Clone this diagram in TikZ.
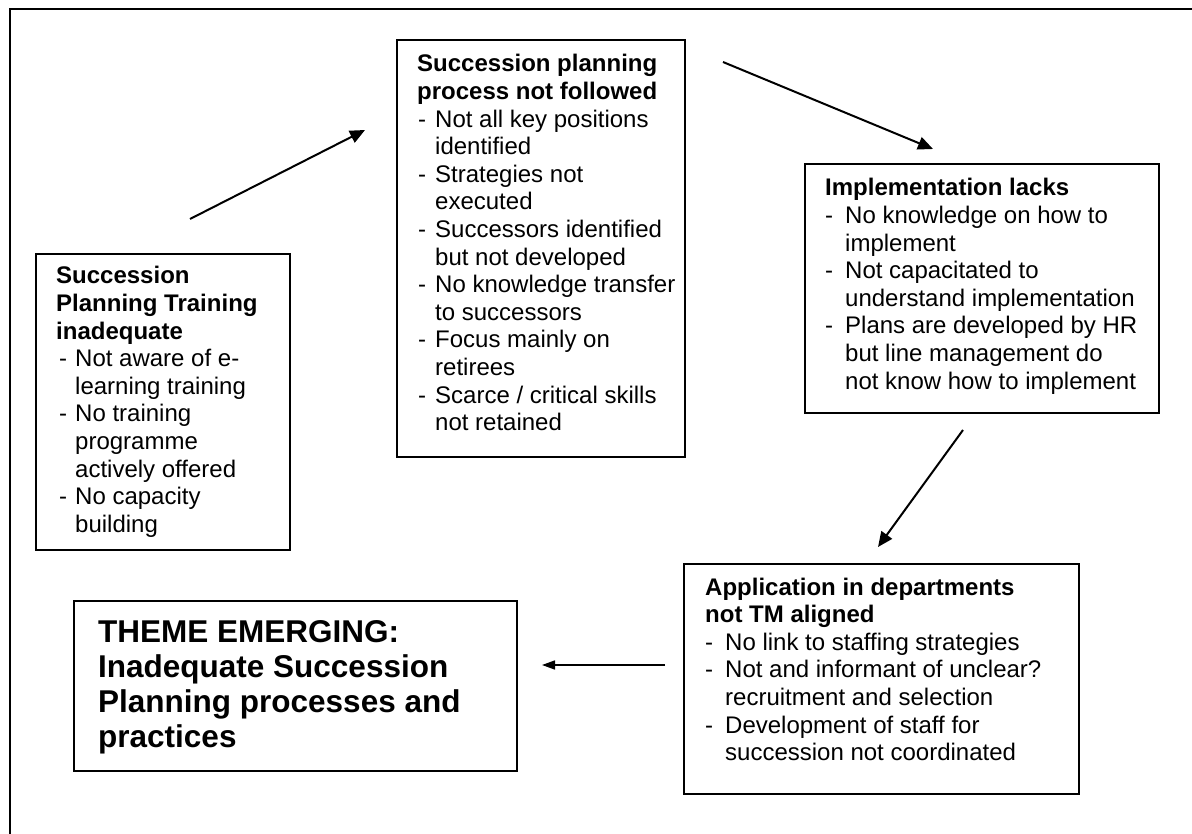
\documentclass[tikz,border=0pt]{standalone}
\usepackage{fontspec}
\setmainfont{Liberation Sans}
\usetikzlibrary{arrows.meta,calc}

% bullet lines with a hanging indent
\newlength\bdash
\newlength\bind
\newcommand{\bli}[1]{\makebox[\bind][l]{\hspace*{\bdash}-}#1}
\newcommand{\cnt}[1]{\hspace*{\bind}#1}
\newcommand{\bodyfont}{\fontsize{24pt}{27.6pt}\selectfont}
\newcommand{\themefont}{\fontsize{31.5pt}{35pt}\selectfont\bfseries}

\begin{document}
\begin{tikzpicture}[x=1pt,y=-1pt,
  frame/.style={line width=2.5pt},
  box/.style={draw, line width=1.8pt, inner sep=0pt, anchor=north west},
  txt/.style={inner sep=0pt, anchor=base west, font=\bodyfont},
  arr/.style={-{Triangle[length=15pt,width=13pt]}, line width=2pt},
  arrsmall/.style={-{Triangle[length=13pt,width=9pt]}, line width=1.6pt}]

\fill[white] (0,0) rectangle (1192,834);
\useasboundingbox (0,0) rectangle (1192,834);

% open outer frame
\draw[frame] (10,834) -- (10,9) -- (1192,9);

% boxes
\node[box, minimum width=254pt, minimum height=296pt] (train) at (35,253) {};
\node[box, minimum width=288pt, minimum height=417pt] (proc) at (396,39) {};
\node[box, minimum width=354pt, minimum height=249pt] (impl) at (804,163) {};
\node[box, minimum width=395pt, minimum height=230pt] (appl) at (683,563) {};
\node[box, minimum width=443pt, minimum height=170pt] (theme) at (73,600) {};

% box texts
\node[txt] (train-t) at (56,284) {\parbox[t]{228pt}{\raggedright
  \setlength\bdash{3pt}\setlength\bind{19pt}%
  \textbf{Succession}\\
  \textbf{Planning Training}\\
  \textbf{inadequate}\\
  \bli{Not aware of e-}\\
  \cnt{learning training}\\
  \bli{No training}\\
  \cnt{programme}\\
  \cnt{actively offered}\\
  \bli{No capacity}\\
  \cnt{building}}};

\node[txt] (proc-t) at (417,72) {\parbox[t]{262pt}{\raggedright
  \setlength\bdash{1pt}\setlength\bind{18pt}%
  \textbf{Succession planning}\\
  \textbf{process not followed}\\
  \bli{Not all key positions}\\
  \cnt{identified}\\
  \bli{Strategies not}\\
  \cnt{executed}\\
  \bli{Successors identified}\\
  \cnt{but not developed}\\
  \bli{No knowledge transfer}\\
  \cnt{to successors}\\
  \bli{Focus mainly on}\\
  \cnt{retirees}\\
  \bli{Scarce / critical skills}\\
  \cnt{not retained}}};

\node[txt] (impl-t) at (825,196) {\parbox[t]{330pt}{\raggedright
  \setlength\bdash{0pt}\setlength\bind{20pt}%
  \textbf{Implementation lacks}\\
  \bli{No knowledge on how to}\\
  \cnt{implement}\\
  \bli{Not capacitated to}\\
  \cnt{understand implementation}\\
  \bli{Plans are developed by HR}\\
  \cnt{but line management do}\\
  \cnt{not know how to implement}}};

\node[txt] (appl-t) at (705,595) {\parbox[t]{370pt}{\raggedright
  \setlength\bdash{0pt}\setlength\bind{20pt}%
  \textbf{Application in departments}\\
  \textbf{not TM aligned}\\
  \bli{No link to staffing strategies}\\
  \bli{Not and informant of unclear?}\\
  \cnt{recruitment and selection}\\
  \bli{Development of staff for}\\
  \cnt{succession not coordinated}}};

\node[txt, font=\themefont] (theme-t) at (98,642) {\parbox[t]{415pt}{\raggedright
  THEME EMERGING:\\
  Inadequate Succession\\
  Planning processes and\\
  practices}};

% connectors
\coordinate (a1s) at (190,219);
\coordinate (a1e) at (365,130);
\coordinate (a2s) at (723,62);
\coordinate (a2e) at (933,149);
\coordinate (a3s) at (963,430);
\coordinate (a3e) at (878,547);
\coordinate (a4s) at (665,665);
\coordinate (a4e) at (542,665);

\draw[arr] (a1s) -- (a1e);
\draw[arr] (a2s) -- (a2e);
\draw[arr] (a3s) -- (a3e);
\draw[arrsmall] (a4s) -- (a4e);

\end{tikzpicture}
\end{document}
